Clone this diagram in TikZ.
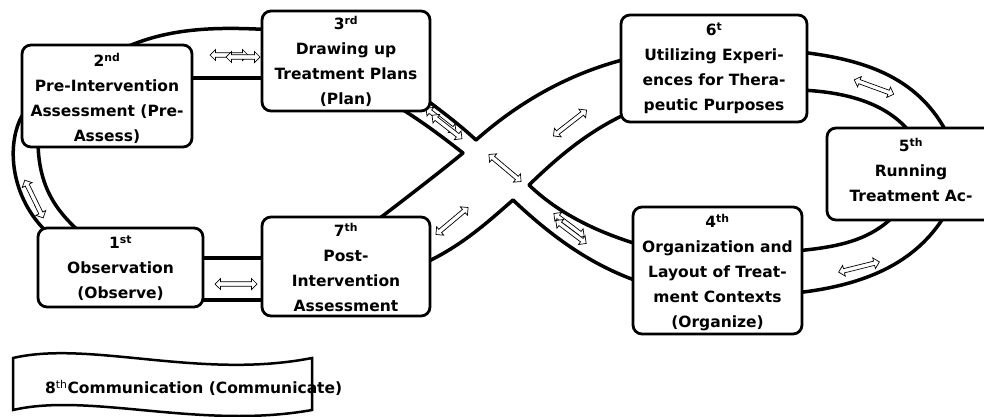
\documentclass[tikz,border=0pt]{standalone}
\usepackage{fontspec}
\setmainfont{DejaVu Sans}
\usetikzlibrary{shapes.arrows}

\tikzset{
  band/.style={line width=3.5pt, black, line cap=round},
  stepbox/.style={draw, line width=2.8pt, rounded corners=9pt, fill=white, inner sep=0pt},
  steptext/.style={anchor=north, align=center, inner sep=0pt, font=\fontsize{15.5}{25}\selectfont\bfseries},
  swap/.style={draw, double arrow, fill=white, line width=0.7pt, minimum width=11pt, minimum height=42pt, double arrow head extend=3pt, inner sep=1.6pt},
}

\begin{document}
\begin{tikzpicture}[x=1pt, y=-1pt]
\useasboundingbox (0,0) rectangle (984,416);
\clip (0,0) rectangle (984,416);

% left lobe of the band
\draw[band] (110,55) .. controls (160,28) and (210,26) .. (275,30);
\draw[band] (185,78) to (270,78);
\draw[band] (30,105) .. controls (5,130) and (5,195) .. (50,235);
\draw[band] (38,140) .. controls (38,185) and (55,210) .. (80,232);
\draw[band] (195,258) to (270,258);
\draw[band] (195,300) to (270,300);

% the crossing
\draw[band] (420,265) .. controls (460,248) and (490,220) .. (513,200);
\draw[band] (513,200) .. controls (550,235) and (590,265) .. (640,282);
\draw[band] (380,218) .. controls (410,195) and (440,172) .. (463,153);
\draw[band] (463,153) .. controls (440,135) and (420,120) .. (395,105);
\draw[band] (476,140) .. controls (460,125) and (440,110) .. (420,95);
\draw[band] (630,58) .. controls (560,75) and (510,110) .. (476,140);
\draw[band] (529,185) .. controls (560,155) and (590,130) .. (630,112);
\draw[band] (640,245) .. controls (590,230) and (555,210) .. (529,185);

% right lobe of the band
\draw[band] (795,293) .. controls (870,285) and (920,260) .. (948,210);
\draw[band] (948,135) .. controls (920,80) and (870,60) .. (800,52);
\draw[band] (800,90) .. controls (850,92) and (890,105) .. (912,135);
\draw[band] (895,215) .. controls (870,240) and (840,247) .. (795,251);

% arrows on the band
\node[swap, minimum height=38pt] (sw1) at (229,55) {};
\node[swap, minimum height=34pt] (sw2) at (243,57) {};
\node[swap, rotate=-64] (sw3) at (34,199) {};
\node[swap] (sw4) at (236,284) {};
\node[swap, rotate=-38, minimum height=38pt] (sw5) at (441,120) {};
\node[swap, rotate=-38, minimum height=38pt] (sw6) at (447,127) {};
\node[swap, rotate=38] (sw7) at (570,123) {};
\node[swap, rotate=-40] (sw8) at (505,168) {};
\node[swap, rotate=40] (sw9) at (452,221) {};
\node[swap, rotate=-37, minimum height=38pt] (sw10) at (569,225) {};
\node[swap, rotate=-37, minimum height=38pt] (sw11) at (571,232) {};
\node[swap, rotate=-20] (sw12) at (874,87) {};
\node[swap, rotate=14] (sw13) at (859,267) {};

% steps
\node[stepbox, minimum width=165pt, minimum height=79pt] (obs) at (120.5,267.5) {};
\node[stepbox, minimum width=170pt, minimum height=102pt] (preassess) at (107,96) {};
\node[stepbox, minimum width=168pt, minimum height=100pt] (plan) at (346,61) {};
\node[stepbox, minimum width=169pt, minimum height=127pt] (organize) at (717.5,270.5) {};
\node[stepbox, minimum width=168pt, minimum height=92pt] (running) at (911,174) {};
\node[stepbox, minimum width=186pt, minimum height=107pt] (utilize) at (714,68.5) {};
\node[stepbox, minimum width=168pt, minimum height=99pt] (postassess) at (346,266.5) {};

\node[steptext] (obs-t) at ([yshift=-9pt]obs.north) {1\textsuperscript{st}\\Observation\\(Observe)};
\node[steptext] (preassess-t) at ([yshift=-9pt]preassess.north) {2\textsuperscript{nd}\\Pre-Intervention\\Assessment (Pre-\\Assess)};
\node[steptext] (plan-t) at ([yshift=-6pt]plan.north) {3\textsuperscript{rd}\\Drawing up\\Treatment Plans\\(Plan)};
\node[steptext] (organize-t) at ([yshift=-8pt]organize.north) {4\textsuperscript{th}\\Organization and\\Layout of Treat-\\ment Contexts\\(Organize)};
\node[steptext] (running-t) at ([yshift=-11pt]running.north) {5\textsuperscript{th}\\Running\\Treatment Ac-};
\node[steptext] (utilize-t) at ([yshift=-9pt]utilize.north) {6\textsuperscript{t}\\Utilizing Experi-\\ences for Thera-\\peutic Purposes};
\node[steptext] (postassess-t) at ([yshift=-7pt]postassess.north) {7\textsuperscript{th}\\Post-\\Intervention\\Assessment};

% the banner
\draw[line width=2.5pt, fill=white] (13,358) .. controls (90,340) and (200,380) .. (312,358)
  -- (312,410) .. controls (200,430) and (90,392) .. (13,410) -- cycle;
\node[font=\fontsize{15.5}{18}\selectfont\bfseries, anchor=west, inner sep=0pt] (communicate) at (45,388)
  {8\textsuperscript{\mdseries th}Communication (Communicate)};

\end{tikzpicture}
\end{document}
